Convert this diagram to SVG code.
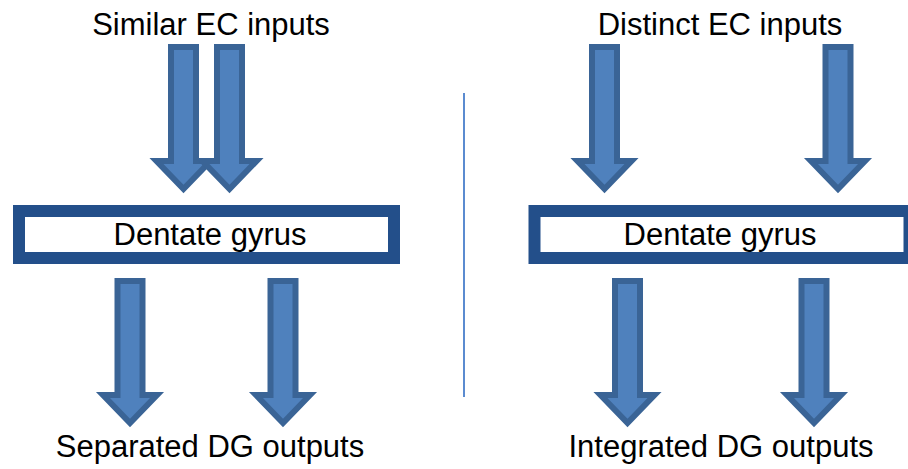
<svg xmlns="http://www.w3.org/2000/svg" xmlns:xlink="http://www.w3.org/1999/xlink" width="908" height="469" viewBox="0 0 908 469">
<style>
.t{font-family:"Liberation Sans",Arial,sans-serif;font-size:31px;fill:#000;text-anchor:middle}
.arr{fill:#4F81BD;stroke:#3A6496;stroke-width:6;stroke-linejoin:miter}
.box{fill:#fff;stroke:#234F8A;stroke-width:12}
</style>
<defs>
<path id="arrow" class="arr" d="M-12.5,3 H12.5 V117 H27 L0,145 L-27,117 H-12.5 Z"/>
</defs>
<rect width="908" height="469" fill="#fff"/>
<g id="connectors">
<use id="a-in-l1" xlink:href="#arrow" transform="translate(183.5,44)"/>
<use id="a-in-l2" xlink:href="#arrow" transform="translate(229.5,44)"/>
<use id="a-in-r1" xlink:href="#arrow" transform="translate(604.5,44)"/>
<use id="a-in-r2" xlink:href="#arrow" transform="translate(838,44)"/>
<use id="a-out-l1" xlink:href="#arrow" transform="translate(130,278)"/>
<use id="a-out-l2" xlink:href="#arrow" transform="translate(283,278)"/>
<use id="a-out-r1" xlink:href="#arrow" transform="translate(627.5,278)"/>
<use id="a-out-r2" xlink:href="#arrow" transform="translate(814,278)"/>
<line x1="464" y1="93" x2="464" y2="397" stroke="#5B8BD0" stroke-width="2"/>
</g>
<g id="title-left"><text class="t" x="211" y="35">Similar EC inputs</text></g>
<g id="title-right"><text class="t" x="720" y="35">Distinct EC inputs</text></g>
<g id="dg-left">
<rect class="box" x="19" y="211" width="375" height="47"/>
<text class="t" x="210" y="245">Dentate gyrus</text>
</g>
<g id="dg-right">
<rect class="box" x="534.5" y="211" width="375" height="47"/>
<text class="t" x="720" y="245">Dentate gyrus</text>
</g>
<g id="out-left"><text class="t" x="210" y="457">Separated DG outputs</text></g>
<g id="out-right"><text class="t" x="721" y="457">Integrated DG outputs</text></g>
</svg>
